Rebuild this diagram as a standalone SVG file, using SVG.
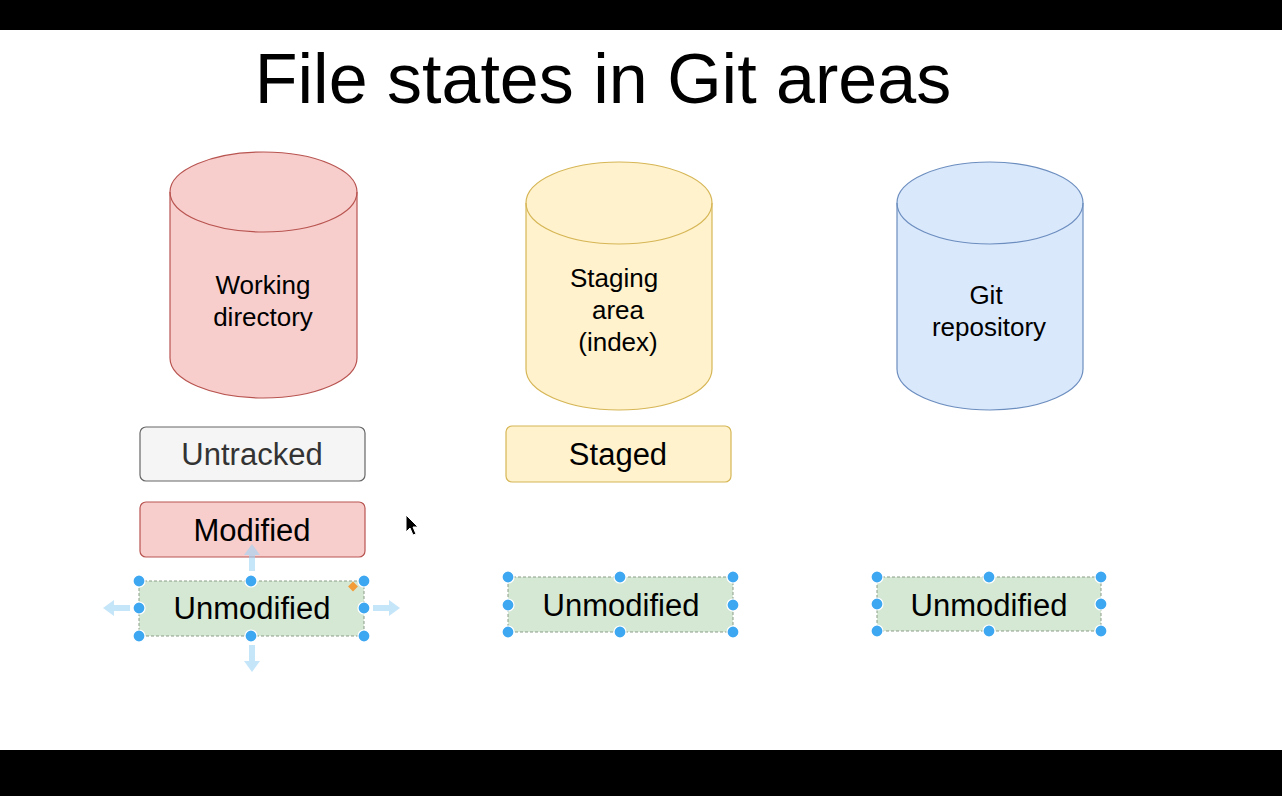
<svg xmlns="http://www.w3.org/2000/svg" width="1282" height="796" viewBox="0 0 1282 796">
<style>
.t{font-family:"Liberation Sans",Arial,Helvetica,sans-serif;fill:#000;text-anchor:middle}
.cl{font-size:26px}
.bl{font-size:31px}
.h{fill:#3ea7f1;stroke:#fff;stroke-width:1.2}
.ar{fill:#9fd3f5;fill-opacity:0.6}
</style>
<defs>
<path id="arw" d="M0,-3 L16,-3 L16,-8 L27,0 L16,8 L16,3 L0,3 Z"/>
</defs>
<rect x="0" y="0" width="1282" height="796" fill="#fff"/>
<rect x="0" y="0" width="1282" height="30" fill="#000"/>
<rect x="0" y="750" width="1282" height="46" fill="#000"/>
<text class="t" x="603" y="103" style="font-size:70px">File states in Git areas</text>

<g id="working-directory">
<path d="M170,192 L170,358 A93.5,40 0 0 0 357,358 L357,192 A93.5,40 0 0 0 170,192 Z" fill="#f8cecc" stroke="#b85450" stroke-width="1.2"/>
<path d="M170,192 A93.5,40 0 0 0 357,192" fill="none" stroke="#b85450" stroke-width="1.2"/>
<text class="t cl" x="263" y="294">Working</text>
<text class="t cl" x="263" y="326">directory</text>
</g>

<g id="staging-area">
<path d="M526,203 L526,369 A93,41 0 0 0 712,369 L712,203 A93,41 0 0 0 526,203 Z" fill="#fff2cc" stroke="#d6b656" stroke-width="1.2"/>
<path d="M526,203 A93,41 0 0 0 712,203" fill="none" stroke="#d6b656" stroke-width="1.2"/>
<text class="t cl" x="614" y="287">Staging</text>
<text class="t cl" x="618" y="319">area</text>
<text class="t cl" x="618" y="351">(index)</text>
</g>

<g id="git-repository">
<path d="M897,203 L897,369 A93,41 0 0 0 1083,369 L1083,203 A93,41 0 0 0 897,203 Z" fill="#dae8fc" stroke="#6c8ebf" stroke-width="1.2"/>
<path d="M897,203 A93,41 0 0 0 1083,203" fill="none" stroke="#6c8ebf" stroke-width="1.2"/>
<text class="t cl" x="986" y="304">Git</text>
<text class="t cl" x="989" y="336">repository</text>
</g>

<g id="untracked">
<rect x="140" y="427" width="225" height="54" rx="6" fill="#f5f5f5" stroke="#666" stroke-width="1.2"/>
<text class="t bl" x="252" y="465" style="fill:#333">Untracked</text>
</g>

<g id="modified">
<rect x="140" y="502" width="225" height="55" rx="6" fill="#f8cecc" stroke="#b85450" stroke-width="1.2"/>
<text class="t bl" x="252" y="541">Modified</text>
</g>

<g id="staged">
<rect x="506" y="426" width="225" height="56" rx="6" fill="#fff2cc" stroke="#d6b656" stroke-width="1.2"/>
<text class="t bl" x="618" y="465">Staged</text>
</g>

<g id="unmodified-1">
<rect x="139" y="581" width="225" height="55" fill="#d5e8d4" stroke="#8a9d86" stroke-width="1" stroke-dasharray="3,2"/>
<text class="t bl" x="252" y="619">Unmodified</text>
</g>

<g id="unmodified-2">
<rect x="508" y="577" width="225" height="55" fill="#d5e8d4" stroke="#8a9d86" stroke-width="1" stroke-dasharray="3,2"/>
<text class="t bl" x="621" y="616">Unmodified</text>
</g>

<g id="unmodified-3">
<rect x="877" y="577" width="224" height="54" fill="#d5e8d4" stroke="#8a9d86" stroke-width="1" stroke-dasharray="3,2"/>
<text class="t bl" x="989" y="616">Unmodified</text>
</g>

<g id="connectors"></g>

<g id="selection">
<use href="#arw" class="ar" transform="translate(373,608)"/>
<use href="#arw" class="ar" transform="translate(130,608) rotate(180)"/>
<use href="#arw" class="ar" transform="translate(252,571) rotate(-90)"/>
<use href="#arw" class="ar" transform="translate(252,645) rotate(90)"/>
<rect x="349.5" y="583" width="7" height="7" fill="#f29c38" transform="rotate(45 353 586.5)"/>
<circle class="h" cx="139" cy="581" r="6"/><circle class="h" cx="251" cy="581" r="6"/><circle class="h" cx="364" cy="581" r="6"/>
<circle class="h" cx="139" cy="608" r="6"/><circle class="h" cx="364" cy="608" r="6"/>
<circle class="h" cx="139" cy="636" r="6"/><circle class="h" cx="251" cy="636" r="6"/><circle class="h" cx="364" cy="636" r="6"/>
<circle class="h" cx="508" cy="577" r="6"/><circle class="h" cx="620" cy="577" r="6"/><circle class="h" cx="733" cy="577" r="6"/>
<circle class="h" cx="508" cy="605" r="6"/><circle class="h" cx="733" cy="605" r="6"/>
<circle class="h" cx="508" cy="632" r="6"/><circle class="h" cx="620" cy="632" r="6"/><circle class="h" cx="733" cy="632" r="6"/>
<circle class="h" cx="877" cy="577" r="6"/><circle class="h" cx="989" cy="577" r="6"/><circle class="h" cx="1101" cy="577" r="6"/>
<circle class="h" cx="877" cy="604" r="6"/><circle class="h" cx="1101" cy="604" r="6"/>
<circle class="h" cx="877" cy="631" r="6"/><circle class="h" cx="989" cy="631" r="6"/><circle class="h" cx="1101" cy="631" r="6"/>
</g>

<g id="cursor">
<path d="M406,515 L406,532 L410,528 L413,535 L416,534 L413,527 L418,527 Z" fill="#000" stroke="#fff" stroke-width="1"/>
</g>
</svg>
